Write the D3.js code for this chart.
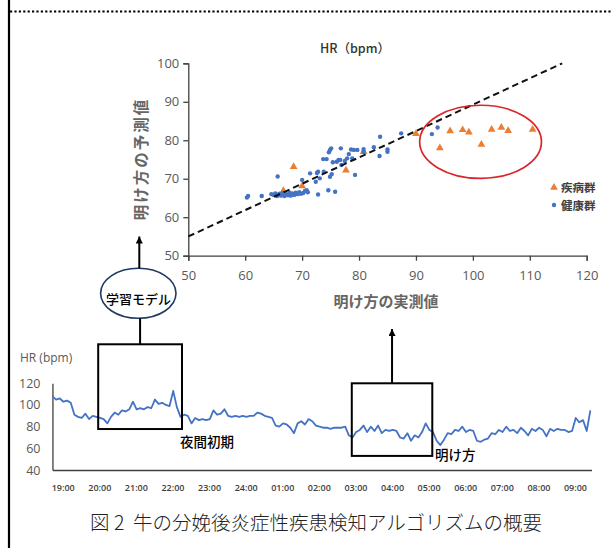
<!DOCTYPE html>
<html><head><meta charset="utf-8">
<script src="https://cdn.jsdelivr.net/npm/d3@7"></script>
<style>
html,body{margin:0;padding:0;background:#fff;}
svg{display:block;}
</style></head><body>
<svg id="c" width="612" height="548"></svg>
<script>
// ---- scatter data ----
const diseaseX = [68.5, 70.0, 66.7, 77.7, 80.8, 90.0, 94.2, 96.0, 98.2, 99.3, 101.5, 103.3, 105.0, 106.2, 110.5];
const diseaseY = [73.1, 68.1, 66.9, 72.2, 77.0, 81.7, 78.0, 82.4, 82.7, 82.1, 78.9, 82.8, 83.3, 82.5, 82.8];
const healthyX = [60.3,60.5,62.9,64.6,65.0,65.3,65.7,65.6,66.0,66.3,66.6,66.9,67.2,67.5,67.8,68.0,68.3,68.6,68.9,69.2,69.5,69.8,70.0,70.2,70.5,70.8,71.0,71.4,72.4,72.6,72.8,73.1,72.8,73.7,73.8,74.3,74.7,74.9,75.1,74.6,74.9,75.2,75.4,75.8,76.1,76.4,76.7,76.8,76.9,77.5,77.9,78.2,78.6,78.8,79.1,79.3,79.7,80.8,80.8,82.6,83.7,83.6,85.0,85.0,87.4,92.8,93.8];
const healthyY = [65.1,65.5,65.5,66.0,65.8,66.2,70.6,65.5,66.1,65.6,66.3,65.5,66.0,65.7,66.4,65.6,66.2,65.8,66.4,66.0,66.5,66.1,69.7,66.3,66.8,67.0,66.5,71.4,69.2,71.5,71.8,70.1,65.9,75.1,71.8,75.1,76.9,77.5,77.9,67.0,70.5,71.2,74.3,66.6,74.4,74.9,74.9,77.9,73.6,74.6,75.3,76.4,77.6,75.3,77.5,71.0,77.5,77.7,77.0,78.2,80.9,75.9,77.6,77.0,81.8,81.6,83.3];
const trendX = [50, 115.7];
const trendY = [55, 100];
const scatterXTicks = [50,60,70,80,90,100,110,120];
const scatterYTicks = [50,60,70,80,90,100];
const legendLabels = ["疾病群", "健康群"];
const outlierCenter = [101.35, 79.6];
const outlierRadii = [10.7, 9.5];

// ---- heart-rate time series (hours after 19:00, 0.1 h steps) ----
const hrStart = -0.28;
const hrStep = 0.1;
const hrValues = [
 108,105,106,103,104,102,
 91,89,88,92,87,90,89,88,87,83,
 89,93,91,95,94,96,103,96,97,96,
 98,97,105,101,102,100,99,113,98,89,
 91,90,83,88,86,87,86,87,95,91,
 92,96,90,89,90,89,90,89,90,90,
 93,92,90,89,88,81,80,83,82,79,
 74,83,85,82,87,85,81,80,79,79,
 78,79,79,79,80,72,70,75,77,81,
 75,80,76,81,74,77,76,77,76,70,
 69,74,67,72,70,75,83,77,75,67,
 63,68,74,73,77,76,80,75,77,76,
 67,66,68,69,74,73,77,75,80,76,
 77,74,79,76,72,78,76,79,77,71,
 78,76,78,77,77,75,76,88,84,86,
 76,95];
const timeLabels = ["19:00","20:00","21:00","22:00","23:00","24:00","01:00","02:00","03:00","04:00","05:00","06:00","07:00","08:00","09:00"];
const hrYTicks = [40,60,80,100,120];
const earlyNight = [0.97, 3.26, 77.8, 156];   // t0, t1, hr low, hr high
const dawn = [7.9, 10.1, 53, 120];

const svg = d3.select("#c");
const JP = "'Noto Sans CJK JP', 'Noto Sans', sans-serif";
const NUM = "'Open Sans', 'Noto Sans', sans-serif";

const defs = svg.append("defs");
defs.append("marker").attr("id","ah").attr("viewBox","0 0 10 10")
  .attr("refX",10).attr("refY",5).attr("markerUnits","userSpaceOnUse")
  .attr("markerWidth",7).attr("markerHeight",7).attr("orient","auto")
  .append("path").attr("d","M0,0L10,5L0,10z").attr("fill","#000");

// frame
svg.append("line").attr("x1",9).attr("x2",9).attr("y1",0).attr("y2",548)
  .attr("stroke","#000").attr("stroke-width",2.2);
svg.append("line").attr("x1",10).attr("x2",612).attr("y1",11.5).attr("y2",11.5)
  .attr("stroke","#000").attr("stroke-width",2.2).attr("stroke-dasharray","2.2,2.2");

// ---------- scatter ----------
const sx = d3.scaleLinear().domain([50,120]).range([188.3,586.7]);
const sy = d3.scaleLinear().domain([50,100]).range([255.7,63.3]);

function styleAxis(g, size, color, fam, weight){
  g.select(".domain").attr("stroke","#404040").attr("stroke-width",1.3);
  g.selectAll(".tick line").attr("stroke","#404040").attr("stroke-width",1.3);
  g.selectAll(".tick text").attr("fill",color).style("font-family",fam)
    .style("font-size",size+"px").style("font-weight",weight||400);
}

const gX = svg.append("g").attr("transform",`translate(0,${sy(50)})`)
  .call(d3.axisBottom(sx).tickValues(scatterXTicks).tickSize(5).tickPadding(10));
styleAxis(gX, 13, "#595959", NUM);
const gY = svg.append("g").attr("transform",`translate(${sx(50)},0)`)
  .call(d3.axisLeft(sy).tickValues(scatterYTicks).tickSize(5).tickPadding(4));
styleAxis(gY, 13, "#595959", NUM);

svg.append("text").attr("x",355).attr("y",52.5).attr("text-anchor","middle")
  .style("font-family",JP).style("font-size","12.5px").style("font-weight",500)
  .attr("fill","#333").text("HR（bpm）");

// disease triangles
const tri = d3.symbol().type(d3.symbolTriangle).size(26);
svg.append("g").selectAll("path").data(diseaseX).join("path")
  .attr("transform",(d,i)=>`translate(${sx(d)},${sy(diseaseY[i])})`)
  .attr("d",tri).attr("fill","#ED7D31");
// healthy dots
svg.append("g").selectAll("circle").data(healthyX).join("circle")
  .attr("cx",d=>sx(d)).attr("cy",(d,i)=>sy(healthyY[i])).attr("r",2.2)
  .attr("fill","#4472C4");
// trend line
svg.append("line").attr("x1",sx(trendX[0])).attr("y1",sy(trendY[0]))
  .attr("x2",sx(trendX[1])).attr("y2",sy(trendY[1]))
  .attr("stroke","#111").attr("stroke-width",2).attr("stroke-dasharray","6.5,4");
// outlier ellipse
svg.append("ellipse").attr("cx",sx(outlierCenter[0])).attr("cy",sy(outlierCenter[1]))
  .attr("rx",sx(50+outlierRadii[0])-sx(50)).attr("ry",sy(50)-sy(50+outlierRadii[1]))
  .attr("fill","none").attr("stroke","#D9262A").attr("stroke-width",1.7);

// legend
const lg = svg.append("g");
lg.append("path").attr("transform","translate(554,187.5)").attr("d",tri).attr("fill","#ED7D31");
lg.append("circle").attr("cx",554).attr("cy",205).attr("r",2.2).attr("fill","#4472C4");
lg.selectAll("text").data(legendLabels).join("text")
  .attr("x",561).attr("y",(d,i)=>191.5+i*18)
  .style("font-family",JP).style("font-size","11.5px").style("font-weight",700)
  .attr("fill","#404040").text(d=>d);

// axis titles
svg.append("text").attr("transform","translate(147,159) rotate(-90)")
  .attr("text-anchor","middle").style("font-family",JP).style("font-size","15.5px")
  .style("font-weight",700).style("letter-spacing","2px").attr("fill","#666").text("明け方の予測値");
svg.append("text").attr("x",386).attr("y",307).attr("text-anchor","middle")
  .style("font-family",JP).style("font-size","15px").style("font-weight",700)
  .attr("fill","#666").text("明け方の実測値");

// learning model ellipse
svg.append("ellipse").attr("cx",138.3).attr("cy",293.3).attr("rx",37.7).attr("ry",25)
  .attr("fill","none").attr("stroke","#1F3864").attr("stroke-width",1.6);
svg.append("text").attr("x",138.5).attr("y",304).attr("text-anchor","middle")
  .style("font-family",JP).style("font-size","13px").style("font-weight",500)
  .attr("fill","#000").text("学習モデル");

// ---------- heart-rate chart ----------
const bx = d3.scaleLinear().domain([0,14]).range([62.7,575]);
const by = d3.scaleLinear().domain([40,120]).range([470,383.3]);
const hrEnd = hrStart + (hrValues.length-1)*hrStep;
const bxAxis = d3.scaleLinear().domain([hrStart, hrEnd+0.03]).range([bx(hrStart), bx(hrEnd+0.03)]);

const gbX = svg.append("g").attr("transform",`translate(0,${by(40)})`)
  .call(d3.axisBottom(bxAxis).tickValues(d3.range(timeLabels.length))
    .tickFormat(i=>timeLabels[i]).tickSize(0).tickSizeOuter(0).tickPadding(14.5));
styleAxis(gbX, 9, "#404040", NUM, 600);
const gbY = svg.append("g").attr("transform",`translate(${bx(hrStart)},0)`)
  .call(d3.axisLeft(by).tickValues(hrYTicks).tickSize(0).tickSizeOuter(0).tickPadding(12));
styleAxis(gbY, 12.5, "#595959", NUM);

svg.append("text").attr("x",20).attr("y",361.5)
  .style("font-family",NUM).style("font-size","12px").attr("fill","#595959").text("HR (bpm)");

svg.append("path").datum(hrValues)
  .attr("d", d3.line().x((d,i)=>bx(hrStart+i*hrStep)).y(d=>by(d)))
  .attr("fill","none").attr("stroke","#4472C4").attr("stroke-width",1.8)
  .attr("stroke-linejoin","round");

// boxes
function box(b){
  svg.append("rect").attr("x",bx(b[0])).attr("y",by(b[3]))
    .attr("width",bx(b[1])-bx(b[0])).attr("height",by(b[2])-by(b[3]))
    .attr("fill","none").attr("stroke","#000").attr("stroke-width",2);
}
box(earlyNight); box(dawn);
svg.append("text").attr("x",180).attr("y",446.5)
  .style("font-family",JP).style("font-size","13.5px").style("font-weight",500)
  .attr("fill","#000").text("夜間初期");
svg.append("text").attr("x",435).attr("y",460)
  .style("font-family",JP).style("font-size","13.5px").style("font-weight",500)
  .attr("fill","#000").text("明け方");

// connectors
const e1x = (bx(earlyNight[0])+bx(earlyNight[1]))/2;
svg.append("line").attr("x1",e1x).attr("x2",e1x).attr("y1",by(earlyNight[3])).attr("y2",318.3)
  .attr("stroke","#000").attr("stroke-width",2);
svg.append("line").attr("x1",139.3).attr("x2",139.3).attr("y1",268.3).attr("y2",236.5)
  .attr("stroke","#000").attr("stroke-width",2).attr("marker-end","url(#ah)");
const d2x = (bx(dawn[0])+bx(dawn[1]))/2;
svg.append("line").attr("x1",d2x).attr("x2",d2x).attr("y1",by(dawn[3])).attr("y2",329)
  .attr("stroke","#000").attr("stroke-width",2).attr("marker-end","url(#ah)");

// caption
svg.append("text").attr("x",316).attr("y",530).attr("text-anchor","middle")
  .style("font-family",JP).style("font-size","19.5px").style("font-weight",300)
  .style("white-space","pre")
  .attr("fill","#222")
  .text("図 2  牛の分娩後炎症性疾患検知アルゴリズムの概要");
</script>
</body></html>
